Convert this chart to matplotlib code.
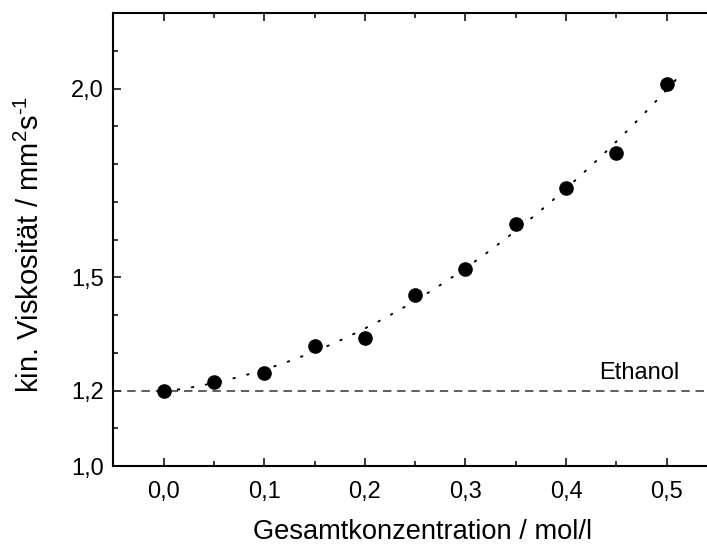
import numpy as np
import matplotlib
matplotlib.use("Agg")
import matplotlib.pyplot as plt
from matplotlib.ticker import MultipleLocator, FixedLocator

plt.rcParams['font.family'] = ['Liberation Sans', 'DejaVu Sans']
plt.rcParams['mathtext.fontset'] = 'custom'
plt.rcParams['mathtext.rm'] = 'Liberation Sans'
plt.rcParams['mathtext.it'] = 'Liberation Sans'

# data
konz = [0.0, 0.05, 0.10, 0.15, 0.20, 0.25, 0.30, 0.35, 0.40, 0.45, 0.50]
visk = [1.199, 1.222, 1.247, 1.318, 1.340, 1.452, 1.522, 1.642, 1.736, 1.829, 2.013]
ethanol = 1.2

xticks = [0.0, 0.1, 0.2, 0.3, 0.4, 0.5]
xlabels = ['0,0', '0,1', '0,2', '0,3', '0,4', '0,5']
yticks = [1.0, 1.2, 1.5, 2.0]
ylabels = ['1,0', '1,2', '1,5', '2,0']

W, H = 707, 547
fig = plt.figure(figsize=(W / 100, H / 100), dpi=100)
# axes box runs a bit past the right edge of the picture (like the original crop)
left, right, top, bottom = 113.4, 716.9, 13.3, 466.0
ax = fig.add_axes([left / W, 1 - bottom / H, (right - left) / W, (bottom - top) / H])

# quadratic fit through the points (dotted line)
coef = np.polyfit(konz, visk, 2)
xf = np.linspace(0.0, 0.515, 200)
ax.plot(xf, np.polyval(coef, xf), color='black', lw=1.4, linestyle=(0, (0.8, 6.5)),
        dash_capstyle='round')

ax.axhline(ethanol, color='#333333', lw=1.1, linestyle=(0, (5.5, 3.8)))
ax.text(0.473, ethanol + 0.017, 'Ethanol', fontsize=17, ha='center', va='bottom')

ax.plot(konz, visk, 'o', color='black', markersize=9.5, zorder=3)

ax.set_xlim(-0.05, 0.55)
ax.set_ylim(1.0, 2.2)

ax.xaxis.set_major_locator(FixedLocator(xticks))
ax.set_xticklabels(xlabels)
ax.xaxis.set_minor_locator(MultipleLocator(0.05))
ax.yaxis.set_major_locator(FixedLocator(yticks))
ax.set_yticklabels(ylabels)
ax.yaxis.set_minor_locator(MultipleLocator(0.1))

ax.tick_params(which='both', direction='in', top=True, right=True, width=1.1, labelsize=17)
ax.tick_params(which='major', length=6, pad=7)
ax.tick_params(axis='x', which='major', pad=10.5)
ax.tick_params(which='minor', length=3.8)
for s in ax.spines.values():
    s.set_linewidth(1.5)

ax.set_xlabel('Gesamtkonzentration / mol/l', fontsize=19.6, labelpad=11.5)
ax.xaxis.label.set_x(0.513)
ax.set_ylabel(r'kin. Viskosität / mm$^2$s$^{\text{-1}}$', fontsize=21, labelpad=19)
ax.yaxis.label.set_y(0.489)

fig.savefig('out.png', dpi=100)
